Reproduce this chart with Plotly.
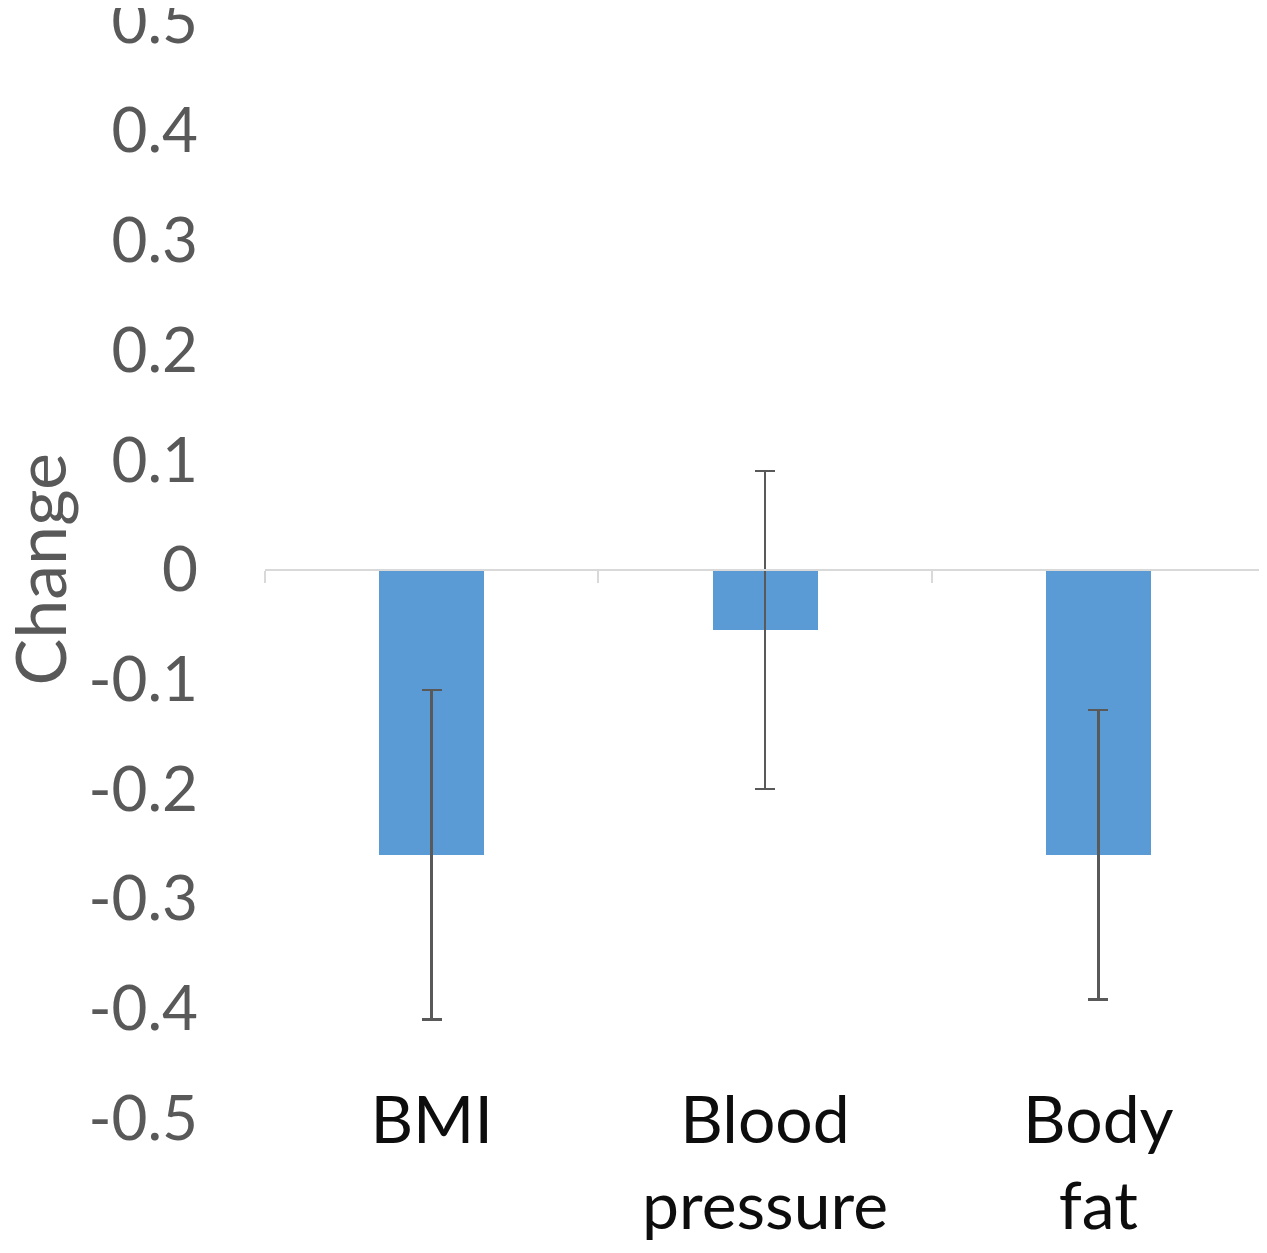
import plotly.graph_objects as go

# data
categories = ["BMI", "Blood<br>pressure", "Body<br>fat"]
change = [-0.26, -0.055, -0.26]
error = [0.15, 0.145, 0.132]
y_ticks = [0.5, 0.4, 0.3, 0.2, 0.1, 0, -0.1, -0.2, -0.3, -0.4, -0.5]
y_title = "Change"

x_pos = list(range(len(categories)))
boundaries = [i - 0.5 for i in range(len(categories) + 1)]

# page geometry (the html page has an 8px body margin on every side)
PAD = 8
W, H = 1267 - PAD, 1253 - 2 * PAD
PLOT_LEFT_PX, PLOT_TOP_PX, PLOT_BOTTOM_PX = 265, 21, 1118
LABEL_LINE_PX = 1076
TITLE_X_PX = 38
M_L, M_R = PLOT_LEFT_PX - PAD, 2
M_T, M_B = PLOT_TOP_PX - PAD, 4
paper_h = H - M_T - M_B
paper_bottom = PAD + H - M_B
dom0 = (paper_bottom - PLOT_BOTTOM_PX) / paper_h
y_min, y_max = -0.5, 0.5
zero_pos = dom0 + (0 - y_min) / (y_max - y_min) * (1 - dom0)
label_pos = (paper_bottom - LABEL_LINE_PX) / paper_h

fig = go.Figure()

fig.add_trace(go.Bar(
    x=x_pos, y=change,
    width=0.315,
    marker=dict(color="#5b9bd5", line=dict(width=0)),
    error_y=dict(type="data", array=error, visible=True,
                 color="#595959", thickness=2.5, width=10),
    showlegend=False,
))

# invisible helper so the zero-line axis gets drawn
fig.add_trace(go.Scatter(
    x=x_pos, y=change, xaxis="x2", mode="markers",
    marker=dict(opacity=0), hoverinfo="skip", showlegend=False,
))

# y axis title as a rotated annotation
fig.add_annotation(
    text=y_title, textangle=-90,
    xref="paper", x=0, xshift=TITLE_X_PX - PLOT_LEFT_PX, xanchor="center",
    yref="y", y=(y_min + y_max) / 2, yanchor="middle",
    showarrow=False, font=dict(size=70, color="#595959"),
)

fig.update_layout(
    width=W, height=H,
    margin=dict(l=M_L, r=M_R, t=M_T, b=M_B, autoexpand=False),
    paper_bgcolor="white", plot_bgcolor="white",
    font=dict(family="Lato, Open Sans, sans-serif", color="#595959"),
    bargap=0,
    xaxis=dict(
        range=[-0.5, 2.5],
        tickmode="array", tickvals=x_pos, ticktext=categories,
        tickfont=dict(size=66, color="#0d0d0d"),
        showgrid=False, zeroline=False, showline=False, ticks="",
        anchor="free", position=label_pos, automargin=False,
    ),
    xaxis2=dict(
        overlaying="x", matches="x",
        anchor="free", position=zero_pos, automargin=False,
        showline=True, linecolor="#d9d9d9", linewidth=2,
        ticks="outside", ticklen=12, tickwidth=2, tickcolor="#d9d9d9",
        tickmode="array", tickvals=boundaries,
        showticklabels=False, showgrid=False, zeroline=False,
    ),
    yaxis=dict(
        domain=[dom0, 1],
        range=[y_min, y_max],
        tickmode="array", tickvals=y_ticks,
        ticktext=[f"{v:g}" for v in y_ticks],
        tickfont=dict(size=62, color="#595959"),
        ticks="", ticklabelstandoff=66, ticklabeloverflow="allow",
        showgrid=False, zeroline=False, showline=False, automargin=False,
    ),
)

fig.write_html("out.html")
